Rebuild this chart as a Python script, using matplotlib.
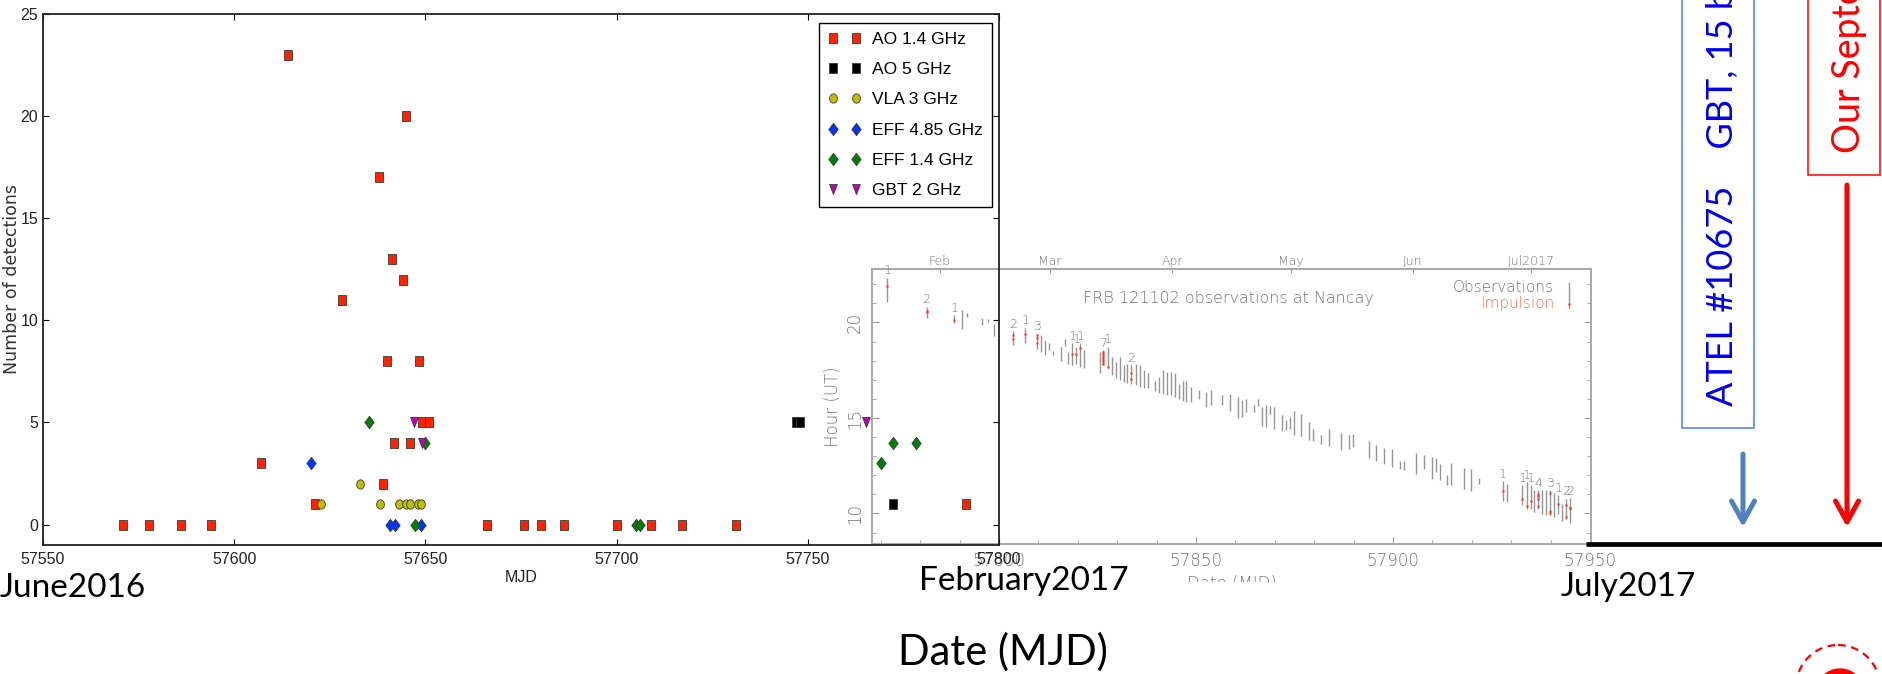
import numpy as np
import matplotlib
matplotlib.use("Agg")
import matplotlib.pyplot as plt
from matplotlib import font_manager as fm
from matplotlib.patches import Rectangle, Circle, FancyArrowPatch, ArrowStyle
from matplotlib.ticker import MultipleLocator
from matplotlib.transforms import Bbox, TransformedBbox

# ---------------------------------------------------------------- data
# Detections per session (MJD, number of detected bursts)
ao14_mjd = [57570.9, 57577.8, 57586.1, 57594.0, 57666.0, 57675.8, 57680.2, 57686.2,
            57700.0, 57709.0, 57717.2, 57731.2,
            57614.1, 57645.0, 57637.9, 57641.2, 57644.1, 57628.1,
            57640.0, 57648.2, 57649.0, 57651.0, 57641.8, 57646.0,
            57607.0, 57639.0, 57621.0, 57791.4]
ao14_n = [0, 0, 0, 0, 0, 0, 0, 0,
          0, 0, 0, 0,
          23, 20, 17, 13, 12, 11,
          8, 8, 5, 5, 4, 4,
          3, 2, 1, 1]

ao5_mjd = [57747.0, 57748.0, 57772.3]
ao5_n = [5, 5, 1]

vla3_mjd = [57633.0, 57622.8, 57638.0, 57643.0, 57645.0, 57646.0, 57648.0, 57648.8]
vla3_n = [2, 1, 1, 1, 1, 1, 1, 1]

eff485_mjd = [57620.0, 57640.8, 57642.0, 57648.8]
eff485_n = [3, 0, 0, 0]

eff14_mjd = [57635.2, 57650.0, 57647.2, 57705.0, 57706.2, 57769.1, 57772.3, 57778.3]
eff14_n = [5, 4, 0, 0, 0, 3, 4, 4]

gbt2_mjd = [57647.0, 57649.0, 57765.2]
gbt2_n = [5, 4, 5]

# Nancay sessions: MJD, start and end hour (UT)
obs_mjd = [57771.6, 57781.6, 57788.6, 57790.7, 57791.8, 57795.6, 57797.3, 57798.7,
           57803.6, 57806.7, 57809.7, 57810.7, 57811.6, 57812.7, 57813.7, 57815.7,
           57816.7, 57817.6, 57818.6, 57819.6, 57820.6, 57821.5, 57825.7, 57826.5,
           57827.6, 57828.6, 57829.7, 57830.6, 57831.6, 57832.6, 57833.6, 57834.7,
           57835.7, 57836.7, 57837.7, 57839.7, 57840.7, 57841.7, 57842.7, 57843.6,
           57844.7, 57845.7, 57846.6, 57847.5, 57848.7, 57850.8, 57852.6, 57853.7,
           57856.6, 57858.6, 57860.7, 57861.7, 57862.6, 57864.7, 57865.7, 57866.7,
           57867.8, 57868.8, 57869.8, 57871.8, 57872.8, 57873.8, 57874.8, 57876.7,
           57878.8, 57879.8, 57881.8, 57883.8, 57886.7, 57888.8, 57889.8, 57893.8,
           57895.8, 57897.8, 57899.8, 57901.8, 57902.7, 57905.9, 57907.8, 57909.8,
           57910.9, 57911.9, 57913.8, 57914.8, 57917.9, 57919.8, 57921.9, 57927.9,
           57928.9, 57932.8, 57933.9, 57934.9, 57935.9, 57936.9, 57937.9, 57938.9,
           57939.9, 57940.9, 57941.9, 57942.9, 57943.9, 57944.9]
obs_top = [22.34, 20.82, 20.38, 20.65, 20.52, 20.24, 20.17, 19.90,
           19.55, 19.72, 19.42, 19.34, 19.07, 18.95, 18.50, 18.72,
           19.16, 18.46, 18.90, 18.72, 18.90, 18.55, 18.46, 18.55,
           18.72, 18.20, 17.94, 18.20, 17.76, 17.85, 17.76, 17.85,
           17.76, 17.50, 17.33, 16.92, 17.15, 17.50, 17.41, 17.41,
           17.33, 16.80, 16.92, 16.92, 16.63, 16.45, 16.36, 16.45,
           16.19, 16.25, 16.10, 15.93, 16.01, 15.66, 15.98, 15.58,
           15.66, 15.63, 15.58, 15.17, 14.88, 15.05, 15.35, 15.23,
           14.79, 14.41, 14.09, 14.41, 14.23, 14.09, 14.18, 13.78,
           13.60, 13.43, 13.39, 12.73, 12.73, 13.18, 13.08, 12.95,
           12.90, 12.60, 11.99, 12.66, 12.40, 12.31, 11.85, 11.68,
           11.56, 11.47, 11.64, 11.47, 11.21, 11.21, 11.21, 11.21,
           11.21, 11.08, 10.94, 10.51, 10.77, 10.80]
obs_bottom = [21.08, 20.26, 19.95, 19.65, 20.30, 19.86, 20.03, 19.28,
              18.81, 18.95, 18.60, 18.46, 18.29, 18.55, 18.32, 17.97,
              18.78, 17.85, 17.76, 17.85, 17.67, 17.59, 17.33, 17.76,
              17.59, 17.24, 17.10, 16.98, 16.89, 16.85, 16.80, 16.75,
              16.63, 16.57, 16.57, 16.40, 16.33, 16.28, 16.19, 16.19,
              16.10, 15.98, 15.87, 15.84, 15.84, 16.01, 15.58, 15.66,
              15.66, 15.35, 15.02, 15.05, 15.31, 15.31, 15.63, 14.58,
              14.53, 15.23, 14.44, 14.30, 14.35, 14.44, 14.09, 14.06,
              13.83, 13.78, 13.65, 13.53, 13.34, 13.36, 13.48, 12.92,
              12.73, 12.60, 12.45, 12.34, 12.26, 12.08, 12.34, 11.82,
              12.17, 11.73, 11.50, 11.50, 11.29, 11.17, 11.56, 10.63,
              10.59, 10.42, 10.24, 10.21, 10.10, 10.24, 9.98, 9.93,
              9.90, 9.81, 9.98, 9.63, 9.72, 9.51]

# Nancay single pulses (MJD, hour UT)
pulse_mjd = [57771.6, 57781.6, 57781.6, 57788.6, 57803.6, 57803.6, 57806.7,
             57809.7, 57809.7, 57809.7, 57818.6, 57819.6, 57820.6,
             57826.5, 57826.5, 57826.5, 57826.5, 57826.5, 57826.5, 57826.5,
             57827.6, 57833.6, 57833.6, 57927.9, 57932.8, 57933.9, 57934.9,
             57936.9, 57936.9, 57936.9, 57936.9, 57939.9, 57939.9, 57939.9,
             57941.9, 57943.9, 57943.9, 57944.9, 57944.9]
pulse_hour = [21.92, 20.58, 20.53, 20.12, 19.34, 19.13, 19.39,
              19.34, 19.20, 18.93, 18.34, 18.34, 18.64,
              18.46, 18.35, 18.24, 18.13, 18.02, 17.91, 17.80,
              17.67, 17.36, 17.03, 11.15, 10.77, 10.38, 10.63,
              11.03, 10.91, 10.77, 10.38, 11.08, 10.12, 10.02,
              10.49, 10.45, 9.81, 10.28, 10.30]

month_mjd = [57785, 57813, 57844, 57874, 57905, 57935]
month_labels = ["Feb", "Mar", "Apr", "May", "Jun", "Jul2017"]

left_xticks = [57550, 57600, 57650, 57700, 57750, 57800]
left_yticks = [0, 5, 10, 15, 20, 25]
nancay_xticks = [57800, 57850, 57900, 57950]
nancay_yticks = [10, 15, 20]

# ---------------------------------------------------------------- fonts
def first_font(names, weight="normal"):
    for n in names:
        try:
            fm.findfont(fm.FontProperties(family=n, weight=weight),
                        fallback_to_default=False)
            return n
        except Exception:
            pass
    return "DejaVu Sans"

NARROW = first_font(["Liberation Sans Narrow", "Liberation Sans", "DejaVu Sans"])
SLIDE = first_font(["Lato", "Open Sans", "DejaVu Sans"])
_thin_path = fm.findfont(fm.FontProperties(family="DejaVu Sans", weight=200))
THIN_W = 200 if "ExtraLight" in _thin_path else "normal"

W, H = 1883, 674
fig = plt.figure(figsize=(W / 100, H / 100), dpi=100)
fig.patch.set_facecolor("white")


def frac_box(x0, y0, x1, y1):
    """pixel box (top-left origin) -> figure fraction rect"""
    return [x0 / W, 1 - y1 / H, (x1 - x0) / W, (y1 - y0) / H]


# ---------------------------------------------------------------- Nancay panel
GRAY = "#747474"
ax2 = fig.add_axes(frac_box(872.3, 269, 1591, 544))
ax2.set_zorder(1)
ax2.set_xlim(57767.84, 57950.25)
ax2.set_ylim(8.4, 22.8)
ax2.vlines(obs_mjd, obs_bottom, obs_top, colors="#959595", lw=1.0)
ax2.plot(pulse_mjd, pulse_hour, "s", ms=2.0, color="#ff2a1a", mec="none")

pm = np.array(pulse_mjd)
for m, top in zip(obs_mjd, obs_top):
    n = int(np.sum(np.isclose(pm, m)))
    if n:
        ax2.text(m, top + 0.08, str(n), ha="center", va="bottom", fontsize=9,
                 color=GRAY, fontweight=THIN_W)

for s in ax2.spines.values():
    s.set_color("#a8a8a8")
    s.set_linewidth(1.4)
ax2.set_xticks(nancay_xticks, labels=[str(t) for t in nancay_xticks])
ax2.xaxis.set_minor_locator(MultipleLocator(10))
ax2.set_yticks(nancay_yticks, labels=[str(t) for t in nancay_yticks],
               rotation=90, va="center")
ax2.yaxis.set_minor_locator(MultipleLocator(1))
ax2.tick_params(which="both", direction="in", color="#9a9a9a", top=False,
                right=True, labelcolor=GRAY)
ax2.tick_params(which="major", length=5, labelsize=12, pad=6)
ax2.tick_params(which="minor", length=3)
for lab in ax2.get_xticklabels() + ax2.get_yticklabels():
    lab.set_fontweight(THIN_W)

sec = ax2.secondary_xaxis("top")
sec.set_xticks(month_mjd, labels=month_labels)
sec.tick_params(direction="in", length=3, color="#9a9a9a", labelcolor=GRAY,
                labelsize=9, pad=1.5)
sec.spines["top"].set_color("#a8a8a8")
sec.spines["top"].set_linewidth(1.4)
for lab in sec.get_xticklabels():
    lab.set_fontweight(THIN_W)

ax2.set_ylabel("Hour (UT)", fontsize=12, color=GRAY, fontweight=THIN_W)
ax2.yaxis.set_label_coords(-0.042, 0.5)
ax2.set_xlabel("Date (MJD)", fontsize=12, color=GRAY, fontweight=THIN_W, va="top")
ax2.xaxis.set_label_coords(0.5, -0.112)
ax2.xaxis.label.set_clip_box(
    TransformedBbox(Bbox.from_extents(0, 1 - 582 / H, 1, 1), fig.transFigure))
ax2.xaxis.label.set_clip_on(True)

ax2.text(0.2932, 0.8945, "FRB 121102 observations at Nancay", transform=ax2.transAxes,
         ha="left", va="center", fontsize=11.5, color=GRAY, fontweight=THIN_W)
ax2.text(0.9485, 0.9345, "Observations", transform=ax2.transAxes, ha="right",
         va="center", fontsize=11, color=GRAY, fontweight=THIN_W)
ax2.text(0.9485, 0.876, "Impulsion", transform=ax2.transAxes, ha="right",
         va="center", fontsize=11, color="#f07060", fontweight=THIN_W)
ax2.plot([0.9694, 0.9694], [0.858, 0.949], transform=ax2.transAxes,
         color="#959595", lw=1.0)
ax2.plot([0.9694], [0.873], "s", transform=ax2.transAxes, ms=2.0,
         color="#ff2a1a", mec="none")

# ---------------------------------------------------------------- detections panel
ax = fig.add_axes(frac_box(43, 14, 999, 545))
ax.set_zorder(2)
ax.patch.set_alpha(0)
ax.set_xlim(57550, 57800)
ax.set_ylim(-1, 25)

sq = [(-0.77, -1), (0.77, -1), (0.77, 1), (-0.77, 1), (-0.77, -1)]
dia = [(0, -1), (0.76, 0), (0, 1), (-0.76, 0), (0, -1)]
t = np.linspace(0, 2 * np.pi, 41)
ell = list(zip(0.83 * np.cos(t), np.sin(t)))
tri = [(-0.78, 1), (0.78, 1), (0, -1), (-0.78, 1)]

series = [
    (ao14_mjd, ao14_n, sq, 7.2, "#ff2200", "AO 1.4 GHz"),
    (ao5_mjd, ao5_n, sq, 7.2, "#000000", "AO 5 GHz"),
    (vla3_mjd, vla3_n, ell, 6.7, "#bfbf00", "VLA 3 GHz"),
    (eff485_mjd, eff485_n, dia, 8.9, "#0033ff", "EFF 4.85 GHz"),
    (eff14_mjd, eff14_n, dia, 8.9, "#008000", "EFF 1.4 GHz"),
    (gbt2_mjd, gbt2_n, tri, 7.2, "#bf00bf", "GBT 2 GHz"),
]
for xs, ys, mk, ms, col, lab in series:
    ax.plot(xs, ys, ls="none", marker=mk, ms=ms, mfc=col, mec="#3a3a3a",
            mew=0.6, label=lab)

ax.set_xticks(left_xticks, labels=[str(v) for v in left_xticks])
ax.set_yticks(left_yticks, labels=[str(v) for v in left_yticks])
ax.tick_params(direction="in", length=4, width=0.8, top=True, right=True,
               labelsize=11.5, labelcolor="#222222")
ax.tick_params(axis="x", pad=5)
ax.tick_params(axis="y", pad=3.5)
for lab in ax.get_xticklabels() + ax.get_yticklabels():
    lab.set_fontfamily(NARROW)
for s in ax.spines.values():
    s.set_color("#222222")
    s.set_linewidth(1.3)

ax.set_ylabel("Number of detections", fontsize=12.5, family="DejaVu Sans",
              color="#333333")
ax.yaxis.set_label_coords(-0.023, 0.5)
ax.set_xlabel("MJD", fontsize=11.5, family=NARROW, color="#222222", va="top")
ax.xaxis.set_label_coords(0.5, -0.047)

leg = ax.legend(numpoints=2, loc="upper right",
                bbox_to_anchor=(992 / W, 1 - 23 / H), bbox_transform=fig.transFigure,
                borderaxespad=0, frameon=True, fancybox=False, framealpha=1,
                edgecolor="black", prop={"family": NARROW, "size": 12.5},
                handlelength=1.92, handletextpad=0.63, borderpad=0.5,
                labelspacing=0.87)
leg.get_frame().set_linewidth(1.0)

# ---------------------------------------------------------------- slide annotations
ov = fig.add_axes([0, 0, 1, 1])
ov.set_zorder(5)
ov.patch.set_alpha(0)
ov.set_xlim(0, W)
ov.set_ylim(H, 0)
ov.axis("off")

ov.text(0, 597, "June2016", fontsize=24, family=SLIDE, ha="left", va="baseline")
ov.text(919, 590, "February2017", fontsize=24, family=SLIDE, ha="left", va="baseline")
ov.text(1561, 596, "July2017", fontsize=24, family=SLIDE, ha="left", va="baseline")
ov.text(1003, 665, "Date (MJD)", fontsize=30, family=SLIDE, ha="center", va="baseline")

ov.add_patch(Rectangle((1682, -10), 72, 438, fill=False, ec="#4d7df0", lw=1.1))
ov.text(1733, 406, "ATEL #10675    GBT, 15 bursts", rotation=90,
        rotation_mode="anchor", ha="left", va="baseline", fontsize=26,
        family=SLIDE, color="#0000ee")
ov.add_patch(Rectangle((1808, -10), 72, 185, fill=False, ec="#ff0000", lw=1.1))
ov.text(1860, 153, "Our September observations", rotation=90,
        rotation_mode="anchor", ha="left", va="baseline", fontsize=27,
        family=SLIDE, color="#ff0000")

ov.add_patch(FancyArrowPatch((1743, 454), (1743, 527),
                             arrowstyle=ArrowStyle("->", head_length=15, head_width=8.3),
                             mutation_scale=1, lw=3.6, color="#4f81bd",
                             shrinkA=0, shrinkB=0))
ov.add_patch(FancyArrowPatch((1847, 185), (1847, 527),
                             arrowstyle=ArrowStyle("->", head_length=15, head_width=8.3),
                             mutation_scale=1, lw=3.6, color="#ff0000",
                             shrinkA=0, shrinkB=0))
ov.plot([1586, W], [544, 544], color="black", lw=3.4, solid_capstyle="butt")

ov.add_patch(Circle((1838, 687), 42, fill=False, ec="#ff0000", lw=1.6,
                    ls=(0, (3.5, 2.5))))
ov.add_patch(Circle((1840, 693), 24, color="#ff0000"))

fig.savefig("out.png", dpi=100, facecolor="white")
